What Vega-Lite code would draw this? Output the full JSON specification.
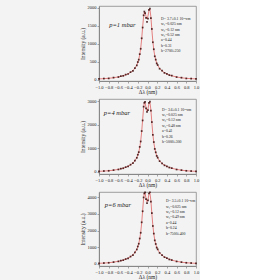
{
  "$schema": "https://vega.github.io/schema/vega-lite/v6.json",
  "background": "#f3f3f3",
  "padding": {"left": 79, "top": 4, "right": 0, "bottom": 0},
  "spacing": 1,
  "config": {
    "font": "Liberation Serif",
    "view": {"stroke": "#888888", "strokeWidth": 0.8},
    "axis": {"grid": false, "domainColor": "#888888", "tickColor": "#555555", "tickSize": 2, "tickWidth": 0.5, "labelFontSize": 4.5, "labelPadding": 1, "labelColor": "#222222", "labelOverlap": false, "titleFontSize": 5.5, "titleFontWeight": "normal", "titleColor": "#222222", "labelFont": "Liberation Serif", "titleFont": "Liberation Serif"}
  },
  "datasets": {
    "d": [
      {"p":1,"x":-1,"m":17,"f":19},{"p":1,"x":-0.9,"m":28,"f":25},{"p":1,"x":-0.8,"m":32,"f":35},{"p":1,"x":-0.7,"m":55,"f":51},{"p":1,"x":-0.6,"m":70,"f":74},{"p":1,"x":-0.55,"m":95,"f":90},{"p":1,"x":-0.5,"m":104,"f":109},{"p":1,"x":-0.45,"m":138,"f":132},{"p":1,"x":-0.4,"m":155,"f":161},{"p":1,"x":-0.35,"m":207,"f":199},{"p":1,"x":-0.3,"m":244,"f":252},{"p":1,"x":-0.26,"m":322,"f":312},{"p":1,"x":-0.22,"m":396,"f":408},{"p":1,"x":-0.2,"m":488,"f":475},{"p":1,"x":-0.18,"m":555,"f":567},{"p":1,"x":-0.16,"m":708,"f":692},{"p":1,"x":-0.14,"m":858,"f":874},{"p":1,"x":-0.12,"m":1150,"f":1131},{"p":1,"x":-0.1,"m":1450,"f":1472},{"p":1,"x":-0.08,"m":1790,"f":1760},{"p":1,"x":-0.065,"m":1895,"f":1880},{"p":1,"x":-0.05,"m":1850,"f":1870},{"p":1,"x":-0.03,"m":1720,"f":1760},{"p":1,"x":-0.01,"m":1610,"f":1690},{"p":1,"x":0.01,"m":1700,"f":1772},{"p":1,"x":0.03,"m":1945,"f":1922},{"p":1,"x":0.05,"m":1975,"f":1961},{"p":1,"x":0.07,"m":1715,"f":1742},{"p":1,"x":0.09,"m":1410,"f":1384},{"p":1,"x":0.11,"m":1040,"f":1063},{"p":1,"x":0.13,"m":845,"f":826},{"p":1,"x":0.15,"m":648,"f":662},{"p":1,"x":0.17,"m":556,"f":544},{"p":1,"x":0.19,"m":450,"f":461},{"p":1,"x":0.21,"m":405,"f":397},{"p":1,"x":0.25,"m":302,"f":311},{"p":1,"x":0.3,"m":247,"f":240},{"p":1,"x":0.35,"m":186,"f":192},{"p":1,"x":0.4,"m":160,"f":156},{"p":1,"x":0.45,"m":124,"f":128},{"p":1,"x":0.5,"m":110,"f":106},{"p":1,"x":0.6,"m":69,"f":72},{"p":1,"x":0.7,"m":53,"f":50},{"p":1,"x":0.8,"m":31,"f":34},{"p":1,"x":0.9,"m":27,"f":25},{"p":1,"x":1,"m":17,"f":19},
      {"p":2,"x":-1,"m":26,"f":28},{"p":2,"x":-0.9,"m":41,"f":38},{"p":2,"x":-0.8,"m":50,"f":53},{"p":2,"x":-0.7,"m":80,"f":76},{"p":2,"x":-0.6,"m":107,"f":111},{"p":2,"x":-0.55,"m":140,"f":135},{"p":2,"x":-0.5,"m":158,"f":163},{"p":2,"x":-0.45,"m":205,"f":198},{"p":2,"x":-0.4,"m":236,"f":243},{"p":2,"x":-0.35,"m":309,"f":300},{"p":2,"x":-0.3,"m":370,"f":380},{"p":2,"x":-0.26,"m":482,"f":470},{"p":2,"x":-0.22,"m":600,"f":613},{"p":2,"x":-0.2,"m":730,"f":714},{"p":2,"x":-0.18,"m":838,"f":852},{"p":2,"x":-0.16,"m":1060,"f":1041},{"p":2,"x":-0.14,"m":1290,"f":1314},{"p":2,"x":-0.12,"m":1730,"f":1702},{"p":2,"x":-0.1,"m":2180,"f":2214},{"p":2,"x":-0.08,"m":2760,"f":2729},{"p":2,"x":-0.065,"m":2925,"f":2947},{"p":2,"x":-0.05,"m":2965,"f":2934},{"p":2,"x":-0.03,"m":2690,"f":2719},{"p":2,"x":-0.01,"m":2540,"f":2581},{"p":2,"x":0.01,"m":2610,"f":2666},{"p":2,"x":0.03,"m":2920,"f":2891},{"p":2,"x":0.05,"m":2975,"f":2950},{"p":2,"x":0.07,"m":2590,"f":2620},{"p":2,"x":0.09,"m":2110,"f":2082},{"p":2,"x":0.11,"m":1570,"f":1598},{"p":2,"x":0.13,"m":1265,"f":1243},{"p":2,"x":0.15,"m":975,"f":996},{"p":2,"x":0.17,"m":832,"f":818},{"p":2,"x":0.19,"m":680,"f":693},{"p":2,"x":0.21,"m":606,"f":597},{"p":2,"x":0.25,"m":458,"f":467},{"p":2,"x":0.3,"m":368,"f":361},{"p":2,"x":0.35,"m":282,"f":289},{"p":2,"x":0.4,"m":240,"f":235},{"p":2,"x":0.45,"m":188,"f":193},{"p":2,"x":0.5,"m":163,"f":159},{"p":2,"x":0.6,"m":105,"f":109},{"p":2,"x":0.7,"m":78,"f":75},{"p":2,"x":0.8,"m":50,"f":52},{"p":2,"x":0.9,"m":39,"f":37},{"p":2,"x":1,"m":26,"f":28},
      {"p":3,"x":-1,"m":38,"f":41},{"p":3,"x":-0.9,"m":57,"f":54},{"p":3,"x":-0.8,"m":72,"f":75},{"p":3,"x":-0.7,"m":114,"f":110},{"p":3,"x":-0.6,"m":155,"f":160},{"p":3,"x":-0.55,"m":200,"f":194},{"p":3,"x":-0.5,"m":229,"f":235},{"p":3,"x":-0.45,"m":294,"f":286},{"p":3,"x":-0.4,"m":341,"f":350},{"p":3,"x":-0.35,"m":444,"f":432},{"p":3,"x":-0.3,"m":536,"f":547},{"p":3,"x":-0.26,"m":690,"f":677},{"p":3,"x":-0.22,"m":868,"f":884},{"p":3,"x":-0.2,"m":1047,"f":1029},{"p":3,"x":-0.18,"m":1210,"f":1228},{"p":3,"x":-0.16,"m":1522,"f":1499},{"p":3,"x":-0.14,"m":1866,"f":1893},{"p":3,"x":-0.12,"m":2490,"f":2452},{"p":3,"x":-0.1,"m":3150,"f":3190},{"p":3,"x":-0.08,"m":3975,"f":3932},{"p":3,"x":-0.065,"m":4215,"f":4246},{"p":3,"x":-0.05,"m":4280,"f":4227},{"p":3,"x":-0.03,"m":3870,"f":3917},{"p":3,"x":-0.01,"m":3640,"f":3718},{"p":3,"x":0.01,"m":3800,"f":3840},{"p":3,"x":0.03,"m":4210,"f":4165},{"p":3,"x":0.05,"m":4285,"f":4250},{"p":3,"x":0.07,"m":3730,"f":3775},{"p":3,"x":0.09,"m":3040,"f":2999},{"p":3,"x":0.11,"m":2270,"f":2303},{"p":3,"x":0.13,"m":1815,"f":1790},{"p":3,"x":0.15,"m":1410,"f":1434},{"p":3,"x":0.17,"m":1195,"f":1178},{"p":3,"x":0.19,"m":980,"f":998},{"p":3,"x":0.21,"m":875,"f":861},{"p":3,"x":0.25,"m":662,"f":673},{"p":3,"x":0.3,"m":530,"f":520},{"p":3,"x":0.35,"m":408,"f":417},{"p":3,"x":0.4,"m":345,"f":339},{"p":3,"x":0.45,"m":272,"f":278},{"p":3,"x":0.5,"m":235,"f":230},{"p":3,"x":0.6,"m":153,"f":157},{"p":3,"x":0.7,"m":110,"f":107},{"p":3,"x":0.8,"m":72,"f":75},{"p":3,"x":0.9,"m":56,"f":54},{"p":3,"x":1,"m":38,"f":40}
    ],
    "lab": [
      {"p":1,"k":"a","x":-0.79,"y":1510,"t":"p=1 mbar"},
      {"p":1,"k":"b","x":0.28,"y":1750,"t":"D= 3.7±0.1 10¹⁴cm\nw₁=0.025 nm\nw₂=0.12 nm\nw₃=0.52 nm\na=0.44\nb=0.31\nh=2700±250"},
      {"p":2,"k":"a","x":-0.9,"y":2490,"t":"p=4 mbar"},
      {"p":2,"k":"b","x":0.3,"y":2720,"t":"D= 3.6±0.1 10¹⁴cm\nw₁=0.025 nm\nw₂=0.12 nm\nw₃=0.48 nm\na=0.41\nb=0.26\nh=5000±300"},
      {"p":3,"k":"a","x":-0.88,"y":3520,"t":"p=6 mbar"},
      {"p":3,"k":"b","x":0.38,"y":3870,"t":"D= 3.5±0.1 10¹⁴cm\nw₁=0.025 nm\nw₂=0.12 nm\nw₃=0.49 nm\na=0.44\nb=0.24\nh=7500±400"}
    ]
  },
  "vconcat": [
    {
      "width": 97, "height": 75,
      "layer": [
        {"data": {"name": "d"}, "transform": [{"filter": "datum.p == 1"}],
         "mark": {"type": "line", "color": "#e06262", "strokeWidth": 0.8},
         "encoding": {
           "x": {"field": "x", "type": "quantitative", "title": "Δλ (nm)", "scale": {"domain": [-1, 1], "nice": false}, "axis": {"values": [-1,-0.8,-0.6,-0.4,-0.2,0,0.2,0.4,0.6,0.8,1], "tickCount": 20, "format": ".1f", "titlePadding": 1, "labelOverlap": false, "labelFlush": false, "labelBound": false}},
           "y": {"field": "f", "type": "quantitative", "title": "Intensity (a.u.)", "scale": {"domain": [-40, 2050], "nice": false, "zero": false}, "axis": {"values": [0,500,1000,1500,2000], "tickCount": 20, "format": "d", "titlePadding": 2, "labelOverlap": false}}}},
        {"data": {"name": "d"}, "transform": [{"filter": "datum.p == 1"}],
         "mark": {"type": "point", "shape": "square", "size": 3, "filled": true, "color": "#3a0d0d", "opacity": 0.85},
         "encoding": {"x": {"field": "x", "type": "quantitative", "title": "Δλ (nm)"}, "y": {"field": "m", "type": "quantitative", "title": "Intensity (a.u.)"}}},
        {"data": {"name": "lab"}, "transform": [{"filter": "datum.p == 1 && datum.k == 'a'"}],
         "mark": {"type": "text", "fontStyle": "italic", "fontSize": 6.5, "align": "left", "baseline": "middle", "color": "#222222"},
         "encoding": {"x": {"field": "x", "type": "quantitative", "title": "Δλ (nm)"}, "y": {"field": "y", "type": "quantitative", "title": "Intensity (a.u.)"}, "text": {"field": "t"}}},
        {"data": {"name": "lab"}, "transform": [{"filter": "datum.p == 1 && datum.k == 'b'"}],
         "mark": {"type": "text", "fontSize": 3.8, "lineHeight": 5.4, "lineBreak": "\n", "align": "left", "baseline": "top", "color": "#222222"},
         "encoding": {"x": {"field": "x", "type": "quantitative", "title": "Δλ (nm)"}, "y": {"field": "y", "type": "quantitative", "title": "Intensity (a.u.)"}, "text": {"field": "t"}}}
      ]
    },
    {
      "width": 97, "height": 75,
      "layer": [
        {"data": {"name": "d"}, "transform": [{"filter": "datum.p == 2"}],
         "mark": {"type": "line", "color": "#e06262", "strokeWidth": 0.8},
         "encoding": {
           "x": {"field": "x", "type": "quantitative", "title": "Δλ (nm)", "scale": {"domain": [-1, 1], "nice": false}, "axis": {"values": [-1,-0.8,-0.6,-0.4,-0.2,0,0.2,0.4,0.6,0.8,1], "tickCount": 20, "format": ".1f", "titlePadding": 1, "labelOverlap": false, "labelFlush": false, "labelBound": false}},
           "y": {"field": "f", "type": "quantitative", "title": "Intensity (a.u.)", "scale": {"domain": [-85, 3085], "nice": false, "zero": false}, "axis": {"values": [0,1000,2000,3000], "tickCount": 20, "format": "d", "titlePadding": 2, "labelOverlap": false}}}},
        {"data": {"name": "d"}, "transform": [{"filter": "datum.p == 2"}],
         "mark": {"type": "point", "shape": "square", "size": 3, "filled": true, "color": "#3a0d0d", "opacity": 0.85},
         "encoding": {"x": {"field": "x", "type": "quantitative", "title": "Δλ (nm)"}, "y": {"field": "m", "type": "quantitative", "title": "Intensity (a.u.)"}}},
        {"data": {"name": "lab"}, "transform": [{"filter": "datum.p == 2 && datum.k == 'a'"}],
         "mark": {"type": "text", "fontStyle": "italic", "fontSize": 6.5, "align": "left", "baseline": "middle", "color": "#222222"},
         "encoding": {"x": {"field": "x", "type": "quantitative", "title": "Δλ (nm)"}, "y": {"field": "y", "type": "quantitative", "title": "Intensity (a.u.)"}, "text": {"field": "t"}}},
        {"data": {"name": "lab"}, "transform": [{"filter": "datum.p == 2 && datum.k == 'b'"}],
         "mark": {"type": "text", "fontSize": 3.8, "lineHeight": 5.4, "lineBreak": "\n", "align": "left", "baseline": "top", "color": "#222222"},
         "encoding": {"x": {"field": "x", "type": "quantitative", "title": "Δλ (nm)"}, "y": {"field": "y", "type": "quantitative", "title": "Intensity (a.u.)"}, "text": {"field": "t"}}}
      ]
    },
    {
      "width": 97, "height": 74,
      "layer": [
        {"data": {"name": "d"}, "transform": [{"filter": "datum.p == 3"}],
         "mark": {"type": "line", "color": "#e06262", "strokeWidth": 0.8},
         "encoding": {
           "x": {"field": "x", "type": "quantitative", "title": "Δλ (nm)", "scale": {"domain": [-1, 1], "nice": false}, "axis": {"values": [-1,-0.8,-0.6,-0.4,-0.2,0,0.2,0.4,0.6,0.8,1], "tickCount": 20, "format": ".1f", "titlePadding": 1, "labelOverlap": false, "labelFlush": false, "labelBound": false}},
           "y": {"field": "f", "type": "quantitative", "title": "Intensity (a.u.)", "scale": {"domain": [-120, 4300], "nice": false, "zero": false}, "axis": {"values": [0,1000,2000,3000,4000], "tickCount": 20, "format": "d", "titlePadding": 2, "labelOverlap": false}}}},
        {"data": {"name": "d"}, "transform": [{"filter": "datum.p == 3"}],
         "mark": {"type": "point", "shape": "square", "size": 3, "filled": true, "color": "#3a0d0d", "opacity": 0.85},
         "encoding": {"x": {"field": "x", "type": "quantitative", "title": "Δλ (nm)"}, "y": {"field": "m", "type": "quantitative", "title": "Intensity (a.u.)"}}},
        {"data": {"name": "lab"}, "transform": [{"filter": "datum.p == 3 && datum.k == 'a'"}],
         "mark": {"type": "text", "fontStyle": "italic", "fontSize": 6.5, "align": "left", "baseline": "middle", "color": "#222222"},
         "encoding": {"x": {"field": "x", "type": "quantitative", "title": "Δλ (nm)"}, "y": {"field": "y", "type": "quantitative", "title": "Intensity (a.u.)"}, "text": {"field": "t"}}},
        {"data": {"name": "lab"}, "transform": [{"filter": "datum.p == 3 && datum.k == 'b'"}],
         "mark": {"type": "text", "fontSize": 3.8, "lineHeight": 5.4, "lineBreak": "\n", "align": "left", "baseline": "top", "color": "#222222"},
         "encoding": {"x": {"field": "x", "type": "quantitative", "title": "Δλ (nm)"}, "y": {"field": "y", "type": "quantitative", "title": "Intensity (a.u.)"}, "text": {"field": "t"}}}
      ]
    }
  ]
}
